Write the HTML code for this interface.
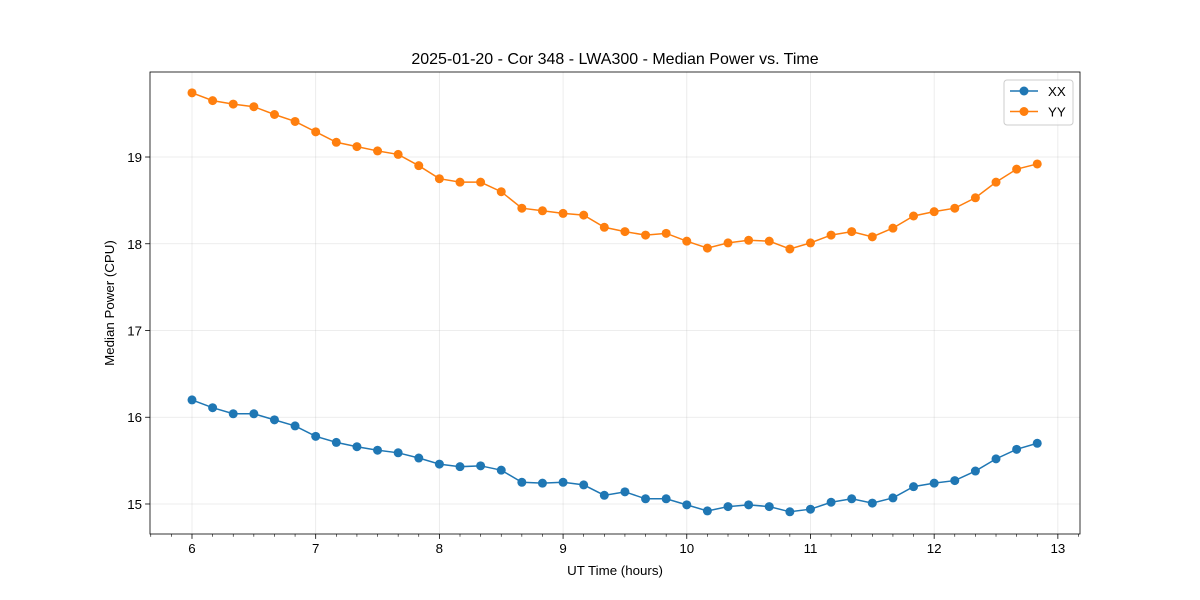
<!DOCTYPE html>
<html><head><meta charset="utf-8"><style>
html,body{margin:0;padding:0;background:#fff;}
svg{display:block;font-family:"Liberation Sans","DejaVu Sans",sans-serif;}
</style></head><body>
<svg id="chart" width="1200" height="600" viewBox="0 0 1200 600"></svg>
<script>
const times = [];
for (let i = 0; i < 42; i++) times.push(6 + i / 6);
const xxValues = [16.20,16.11,16.04,16.04,15.97,15.90,15.78,15.71,15.66,15.62,15.59,15.53,15.46,15.43,15.44,15.39,15.25,15.24,15.25,15.22,15.10,15.14,15.06,15.06,14.99,14.92,14.97,14.99,14.97,14.91,14.94,15.02,15.06,15.01,15.07,15.20,15.24,15.27,15.38,15.52,15.63,15.70];
const yyValues = [19.74,19.65,19.61,19.58,19.49,19.41,19.29,19.17,19.12,19.07,19.03,18.90,18.75,18.71,18.71,18.60,18.41,18.38,18.35,18.33,18.19,18.14,18.10,18.12,18.03,17.95,18.01,18.04,18.03,17.94,18.01,18.10,18.14,18.08,18.18,18.32,18.37,18.41,18.53,18.71,18.86,18.92];
const xTicks = [6,7,8,9,10,11,12,13];
const yTicks = [15,16,17,18,19];
const seriesNames = ["XX","YY"];

const NS = "http://www.w3.org/2000/svg";
const svg = document.getElementById("chart");
const L = 150, R = 1080, T = 72, B = 534;
const xMin = 5.6605, xMax = 13.179, yMin = 14.654, yMax = 19.98;
const xs = v => L + (v - xMin) / (xMax - xMin) * (R - L);
const ys = v => B - (v - yMin) / (yMax - yMin) * (B - T);
function el(tag, attrs, parent) {
  const e = document.createElementNS(NS, tag);
  for (const k in attrs) e.setAttribute(k, attrs[k]);
  (parent || svg).appendChild(e);
  return e;
}
xTicks.forEach(t => {
  const g = el("line", {x1: xs(t), x2: xs(t), y1: T, y2: B, stroke: "#b0b0b0", "stroke-opacity": 0.3, "stroke-width": 0.8});
  
  
});
yTicks.forEach(t => {
  const g = el("line", {x1: L, x2: R, y1: ys(t), y2: ys(t), stroke: "#b0b0b0", "stroke-opacity": 0.3, "stroke-width": 0.8});
  
  
});
const colors = ["#1f77b4", "#ff7f0e"];
[xxValues, yyValues].forEach((vals, si) => {
  const pts = vals.map((v, i) => xs(times[i]) + "," + ys(v)).join(" ");
  const line = el("polyline", {points: pts, fill: "none", stroke: colors[si], "stroke-width": 1.5});
  
  
  vals.forEach((v, i) => {
    const c = el("circle", {cx: xs(times[i]), cy: ys(v), r: 4.5, fill: colors[si]});
    
    
  });
});
const frame = el("rect", {x: L, y: T, width: R - L, height: B - T, fill: "none", stroke: "#000", "stroke-width": 0.8});


xTicks.forEach(t => {
  el("line", {x1: xs(t), x2: xs(t), y1: B, y2: B + 4.9, stroke: "#000", "stroke-width": 0.8});
  const tx = el("text", {x: xs(t), y: B + 19, "text-anchor": "middle", "font-size": 13.3, fill: "#000"});
  tx.textContent = t;
  
  
});
for (let k = 34; k <= 79; k++) {
  if (k % 6 === 0) continue;
  const m = k / 6;
  if (m < xMin || m > xMax) continue;
  el("line", {x1: xs(m), x2: xs(m), y1: B, y2: B + 2.8, stroke: "#000", "stroke-width": 0.6});
}
yTicks.forEach(t => {
  el("line", {x1: L, x2: L - 4.9, y1: ys(t), y2: ys(t), stroke: "#000", "stroke-width": 0.8});
  const tx = el("text", {x: L - 8, y: ys(t) + 5, "text-anchor": "end", "font-size": 13.3, fill: "#000"});
  tx.textContent = t;
  
  
});
const xl = el("text", {x: (L + R) / 2, y: 575, "text-anchor": "middle", "font-size": 13.3});
xl.textContent = "UT Time (hours)";


const yl = el("text", {x: 0, y: 0, "text-anchor": "middle", "font-size": 13.3, transform: "translate(114," + ((T + B) / 2) + ") rotate(-90)"});
yl.textContent = "Median Power (CPU)";


const tt = el("text", {x: (L + R) / 2, y: 64, "text-anchor": "middle", "font-size": 16});
tt.textContent = "2025-01-20 - Cor 348 - LWA300 - Median Power vs. Time";


const lg = el("g", {});


el("rect", {x: 1004, y: 80, width: 69, height: 45, rx: 3, fill: "#fff", "fill-opacity": 0.8, stroke: "#ccc", "stroke-width": 1}, lg);
seriesNames.forEach((n, i) => {
  const y = 91 + i * 20.5;
  const g = el("g", {}, lg);
  
  
  el("line", {x1: 1010, x2: 1038, y1: y, y2: y, stroke: colors[i], "stroke-width": 1.5}, g);
  el("circle", {cx: 1024, cy: y, r: 4.5, fill: colors[i]}, g);
  const t = el("text", {x: 1048, y: y + 5, "font-size": 13.3}, g);
  t.textContent = n;
});
</script>
</body></html>
